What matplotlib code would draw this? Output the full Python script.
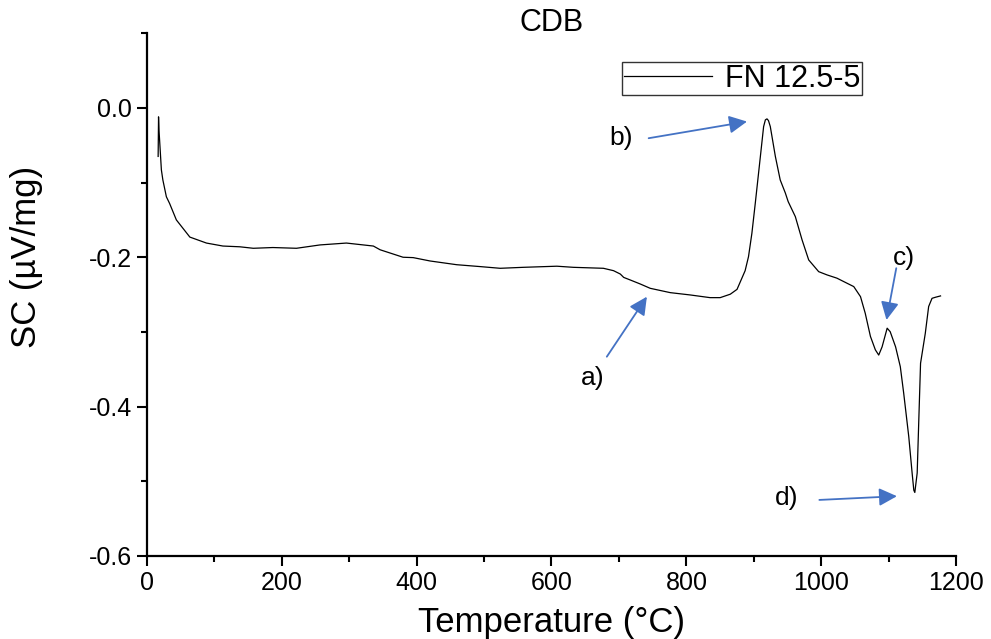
import numpy as np
import matplotlib
matplotlib.use('Agg')
from matplotlib import pyplot as plt
from matplotlib.ticker import MultipleLocator

plt.rcParams['font.family'] = ['Liberation Sans', 'DejaVu Sans']

# DSC curve
temp = [17.0, 17.6, 18.3, 21.8, 24, 29.2, 34, 44, 64, 88.6, 113, 138, 158, 187, 222,
        257, 296, 336, 346, 380, 395, 420, 459.5, 494, 524, 558, 608, 632.5, 677,
        692, 702, 707, 716.6, 731.5, 746.3, 776, 805.6, 835, 850, 865, 875, 887,
        892, 897, 902, 909.6, 914.4, 917, 919.4, 921.6, 924.3, 931.8, 939, 946.6, 950.8,
        961.4, 971.4, 981.2, 996, 1008.5, 1023, 1038, 1048, 1058, 1065, 1072.7, 1080,
        1085, 1090, 1097.5, 1102, 1110, 1117, 1122, 1129.5, 1134.5, 1137, 1138.5,
        1142, 1144.4, 1147, 1154, 1159, 1164, 1169, 1176.6]
sc = [-0.065, -0.012, -0.030, -0.083, -0.0965, -0.119, -0.128, -0.150, -0.173, -0.181,
      -0.185, -0.186, -0.188, -0.187, -0.188, -0.1835, -0.181, -0.185, -0.190, -0.200,
      -0.2005, -0.205, -0.210, -0.2125, -0.2148, -0.2135, -0.212, -0.2135, -0.2148,
      -0.218, -0.2225, -0.227, -0.2304, -0.2358, -0.2416, -0.2474, -0.2505, -0.2541,
      -0.2541, -0.2495, -0.243, -0.218, -0.1992, -0.168, -0.128, -0.065, -0.025,
      -0.016, -0.0147, -0.017, -0.025, -0.065, -0.0965, -0.114, -0.1255, -0.1456,
      -0.1768, -0.2036, -0.2193, -0.2237, -0.228, -0.2348, -0.2393, -0.2528, -0.275,
      -0.306, -0.324, -0.331, -0.320, -0.295, -0.2997, -0.320, -0.3466, -0.382,
      -0.440, -0.489, -0.512, -0.515, -0.489, -0.418, -0.342, -0.302, -0.266,
      -0.255, -0.2536, -0.2518]

# annotations: label, text pos, arrow tail, arrow tip
labels = ['a)', 'b)', 'c)', 'd)']
text_pos = [(661.7, -0.362), (702.8, -0.0406), (1123, -0.2013), (949, -0.523)]
tails = [(682, -0.3332), (744, -0.0406), (1111, -0.2147), (997, -0.525)]
tips = [(741.4, -0.2528), (889.8, -0.0183), (1096.5, -0.284), (1112, -0.520)]

fig = plt.figure(figsize=(9.91, 6.39), dpi=100)
ax = fig.add_axes([0.148, 0.130, 0.817, 0.818])

ax.plot(temp, sc, color='black', lw=0.9, label='FN 12.5-5')

for lab, tp, a, b in zip(labels, text_pos, tails, tips):
    ax.annotate('', xy=b, xytext=a,
                arrowprops=dict(arrowstyle='-|>,head_length=0.4,head_width=0.2',
                                color='#4472C4', lw=1.3, mutation_scale=27,
                                shrinkA=0, shrinkB=0))
    ax.text(tp[0], tp[1], lab, fontsize=19, ha='center', va='center')

ax.set_xlim(0, 1200)
ax.set_ylim(-0.6, 0.1)
ax.xaxis.set_major_locator(MultipleLocator(200))
ax.xaxis.set_minor_locator(MultipleLocator(100))
ax.yaxis.set_minor_locator(MultipleLocator(0.1))
ax.set_yticks([-0.6, -0.4, -0.2, 0.0])
ax.set_yticklabels(['-0.6', '-0.4', '-0.2', '0.0'])

ax.spines['top'].set_visible(False)
ax.spines['right'].set_visible(False)
ax.spines['left'].set_linewidth(1.6)
ax.spines['bottom'].set_linewidth(1.6)
ax.tick_params(which='major', direction='out', length=7, width=1.5, labelsize=18)
ax.tick_params(which='minor', direction='out', length=4, width=1.5)

ax.set_xlabel('Temperature (°C)', fontsize=25, labelpad=8)
ax.set_ylabel('SC (µV/mg)', fontsize=25)
ax.yaxis.set_label_coords(-0.128, 0.572)
# title as plain text so it can sit a bit lower
ax.text(0.5, 1.02, 'CDB', transform=ax.transAxes, fontsize=22,
        ha='center', va='center')

leg = ax.legend(loc='upper right', bbox_to_anchor=(0.883, 0.945), fontsize=22,
                frameon=True, fancybox=False, borderpad=0.05, handlelength=2.9,
                handletextpad=0.4, borderaxespad=0)
leg.get_frame().set_edgecolor('black')
leg.get_frame().set_linewidth(1.0)

plt.savefig('out.png', dpi=100)
